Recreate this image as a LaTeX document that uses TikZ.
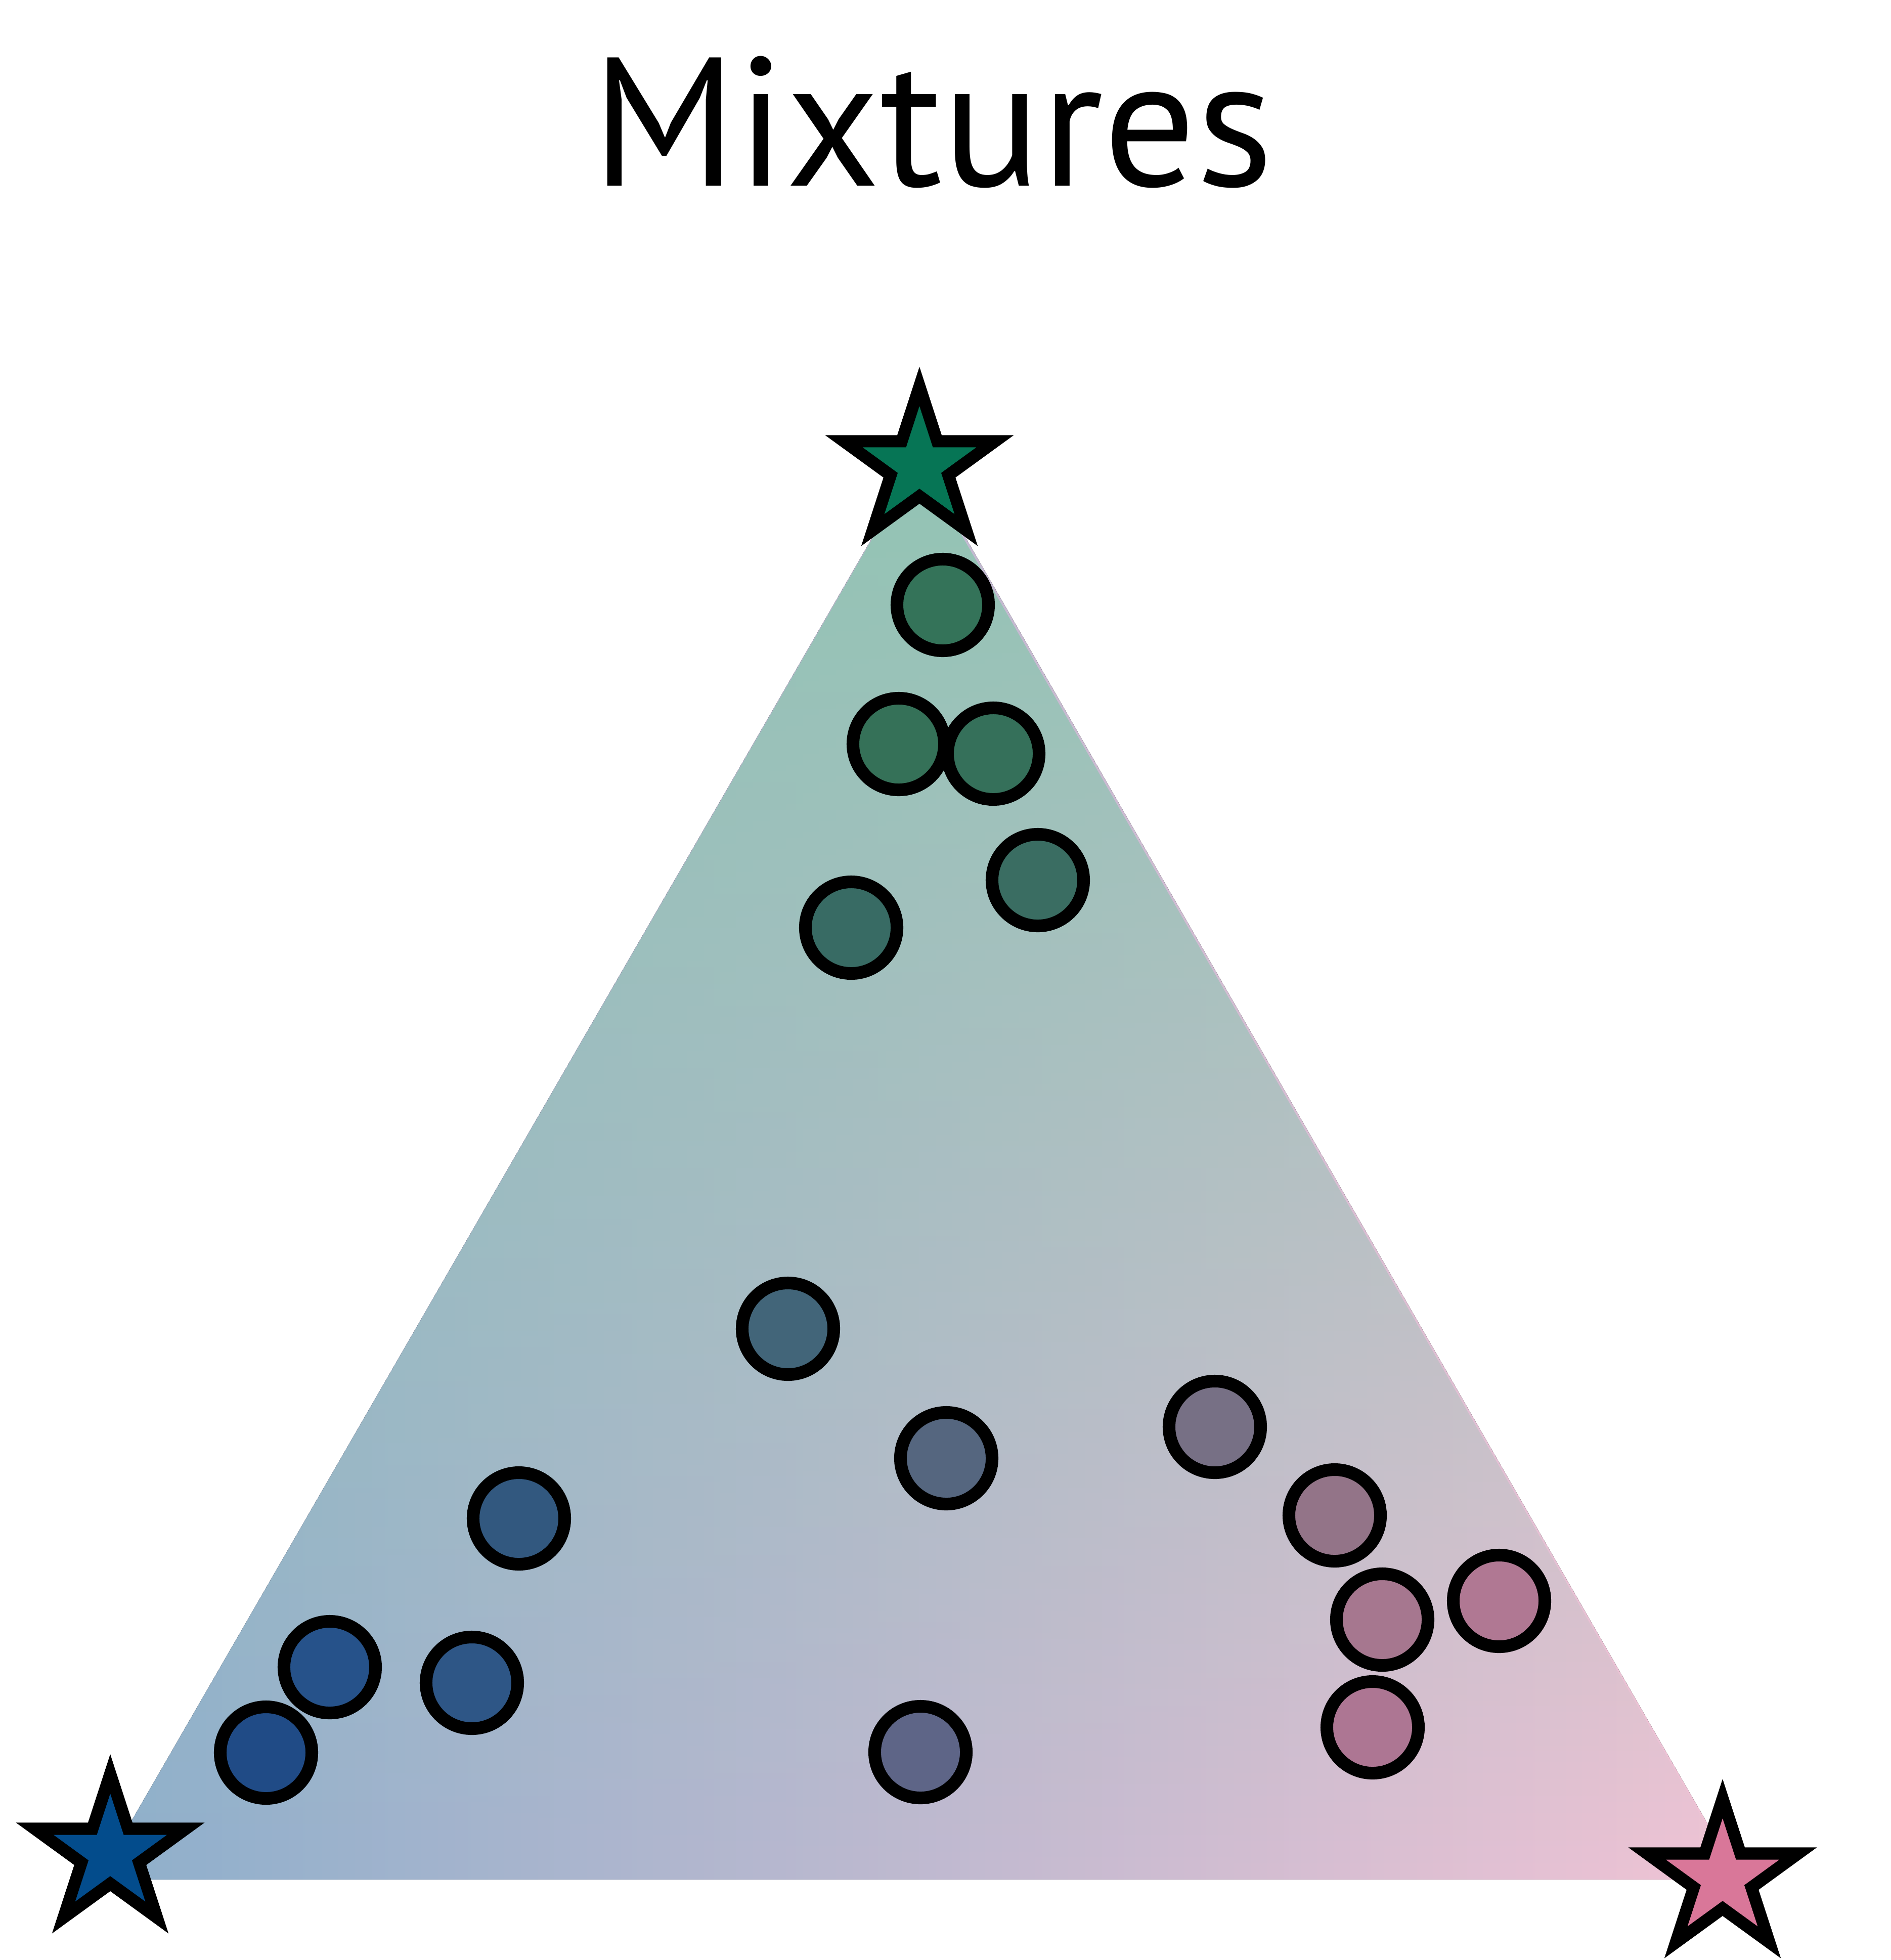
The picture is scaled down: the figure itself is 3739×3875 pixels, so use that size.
\documentclass[tikz,border=0pt]{standalone}
\usepackage{fontspec}
\newfontfamily\titlefamily{PT Sans}
\usetikzlibrary{shapes.geometric,fadings}

\definecolor{triGreen}{HTML}{93C4B4}
\definecolor{triBlue}{HTML}{8EAFCC}
\definecolor{triMid}{HTML}{B5B9CC}
\definecolor{triPink}{HTML}{F1C3D5}
\definecolor{starGreen}{HTML}{067555}
\definecolor{starBlue}{HTML}{034C8C}
\definecolor{starPink}{HTML}{D97799}

\tikzfading[name=fade green, top color=transparent!0, bottom color=transparent!100]

\begin{document}
\begin{tikzpicture}[x=0.01cm, y=-0.01cm,
	dot/.style={circle, draw=black, line width=0.25cm, minimum size=1.81cm, inner sep=0pt},
	vertexstar/.style={star, star points=5, star point ratio=2.618, draw=black, line width=0.24cm, minimum size=3.14cm, inner sep=0pt}]
	\useasboundingbox (0,0) rectangle (3739,3875);
	\node[font=\titlefamily\fontsize{103}{110}\selectfont, anchor=base] (title) at (1844,367) {Mixtures};
	% simplex
	\coordinate (apex) at (1817,903);
	\coordinate (lower left) at (193,3716);
	\coordinate (lower right) at (3440,3716);
	\fill[left color=triBlue, middle color=triMid, right color=triPink] (apex) -- (lower left) -- (lower right) -- cycle;
	\fill[triGreen, path fading=fade green] (apex) -- (lower left) -- (lower right) -- cycle;
	% mixtures
	\foreach \x/\y/\c [count=\i] in {1864/1196/347359, 1777/1471/357158, 1964/1490/35705A,
		2052/1740/3A6D62, 1683/1834/386B64, 1558/2627/426579, 1871/2883/55667F,
		2402/2821/777085, 2639/2996/937488, 2733/3202/A6778F, 2964/3165/B07893,
		2714/3415/AD7693, 1820/3464/5E6587, 1026/3002/32587F, 652/3296/26528A,
		933/3327/2E5686, 526/3465/204B86}{
		\definecolor{dotfill}{HTML}{\c}
		\node[dot, fill=dotfill] (m\i) at (\x,\y) {};
		}
	% pure components
	\node[vertexstar, fill=starGreen] (pure green) at (1818,921) {};
	\node[vertexstar, fill=starBlue] (pure blue) at (218,3664) {};
	\node[vertexstar, fill=starPink] (pure pink) at (3406,3713) {};
\end{tikzpicture}
\end{document}
